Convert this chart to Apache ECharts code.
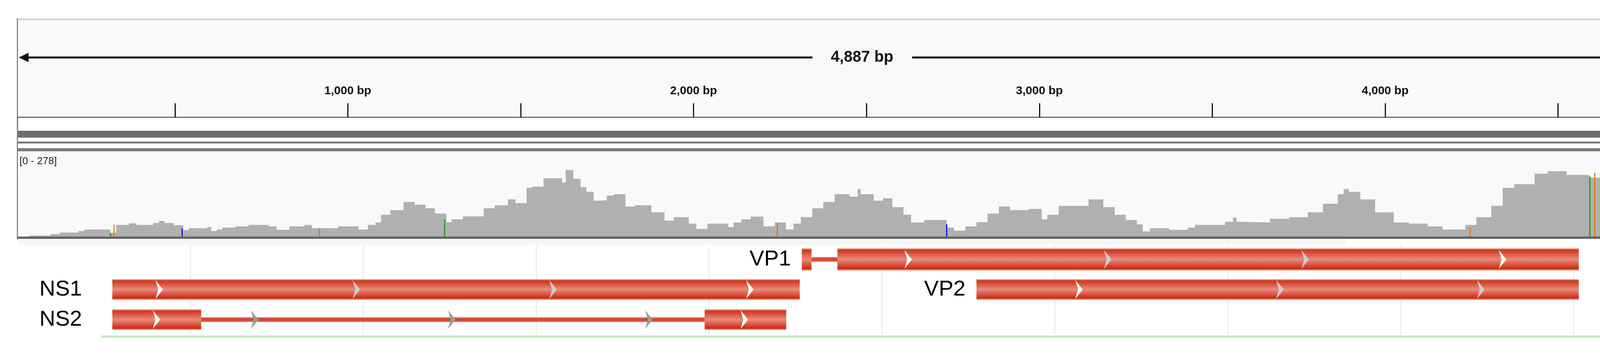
<!DOCTYPE html>
<html>
<head>
<meta charset="utf-8">
<script src="https://cdn.jsdelivr.net/npm/echarts@6/dist/echarts.min.js"></script>
<style>
    html, body { margin: 0; padding: 0; background: #fff; }
    #chart { width: 4408px; height: 908px; }
</style>
</head>
<body>
<div id="chart"></div>
<script>
// 视图范围 (bp)
var viewStart = 45;
var viewEnd = 4932;
var spanLabel = '4,887 bp';

// 标尺刻度
var rulerTicks = [500, 1000, 1500, 2000, 2500, 3000, 3500, 4000, 4500];
var rulerLabels = [1000, 2000, 3000, 4000];

// 覆盖度 (起点 bp, 深度)
var covRange = [0, 278];
var covPos = [46, 78, 140, 167, 221, 238, 313, 330, 367, 389, 437, 454, 470, 497, 524, 540, 594, 605, 621, 637,
    675, 713, 772, 794, 831, 875, 896, 972, 1031, 1058, 1080, 1096, 1123, 1161, 1193, 1225, 1252, 1285, 1300, 1333,
    1393, 1425, 1463, 1485, 1517, 1533, 1566, 1620, 1630, 1652, 1673, 1690, 1711, 1727, 1749, 1770, 1803, 1830, 1878, 1916,
    1943, 1986, 2008, 2040, 2100, 2116, 2138, 2165, 2202, 2235, 2267, 2289, 2310, 2343, 2375, 2408, 2451, 2475, 2483, 2521,
    2548, 2575, 2607, 2629, 2667, 2732, 2753, 2786, 2818, 2850, 2883, 2915, 2969, 3007, 3023, 3056, 3142, 3185, 3218, 3250,
    3282, 3299, 3320, 3375, 3429, 3450, 3537, 3560, 3570, 3580, 3667, 3722, 3776, 3820, 3863, 3880, 3895, 3928, 3971, 4025,
    4069, 4123, 4166, 4232, 4264, 4307, 4340, 4373, 4432, 4470, 4525, 4590, 4633, 4666, 4709, 4730, 4752, 4807, 4828, 4839,
    4883, 4894, 4915, 4918];
var covDepth = [0, 3, 8, 13, 18, 23, 12, 38, 43, 38, 44, 51, 44, 37, 21, 27, 31, 18, 23, 29,
    33, 38, 33, 22, 33, 38, 27, 33, 23, 38, 46, 71, 86, 113, 104, 92, 75, 47, 56, 66,
    92, 102, 121, 109, 159, 163, 190, 176, 217, 188, 161, 146, 117, 119, 134, 138, 98, 102, 79, 52,
    63, 42, 25, 42, 31, 46, 56, 65, 33, 46, 23, 42, 63, 92, 113, 138, 130, 155, 138, 117,
    125, 96, 71, 46, 54, 29, 19, 33, 47, 75, 98, 86, 90, 56, 71, 100, 121, 96, 71, 54,
    40, 17, 27, 22, 29, 38, 48, 62, 48, 46, 58, 63, 79, 107, 138, 155, 146, 121, 79, 46,
    42, 33, 23, 38, 63, 100, 159, 171, 205, 213, 201, 192, 188, 262, 278, 222, 196, 138, 96, 236,
    159, 44, 44, 0];

// 错配位点
var misPos = [314, 324, 521, 918, 1280, 2242, 2732, 4246, 4592, 4606, 4704, 4718, 4734, 4825, 4883, 4894];
var misDepth = [12, 38, 27, 27, 56, 44, 40, 30, 196, 208, 265, 278, 260, 125, 150, 40];
var misColor = ['#1a9a1a', '#e07a10', '#1010e0', '#e07a10', '#1a9a1a', '#e07a10', '#1010e0', '#e07a10',
    '#1a9a1a', '#e07a10', '#1010e0', '#e07a10', '#e01010', '#1a9a1a', '#1010e0', '#1010e0'];

// 基因注释
var geneNames = ['VP1', 'NS1', 'VP2', 'NS2'];
var geneRow = [0, 1, 1, 2];
var segGene = [0, 0, 0, 1, 2, 3, 3, 3];
var segStart = [2313, 2341, 2416, 319, 2818, 319, 576, 2032];
var segEnd = [2341, 2416, 4560, 2307, 4560, 576, 2032, 2268];
var segExon = [1, 0, 1, 1, 1, 1, 0, 1];
var chevPos = [2620, 3197, 3768, 4339, 454, 1024, 1593, 2162, 3114, 3695, 4276, 446, 730, 1300, 1870, 2146];
var chevRow = [0, 0, 0, 0, 1, 1, 1, 1, 1, 1, 1, 2, 2, 2, 2, 2];
var chevShade = [0, 1, 1, 0, 0, 1, 1, 0, 0, 1, 1, 0, 2, 2, 2, 0];
var gridBp = [545, 1045, 1545, 2045, 2545, 3045, 3545, 4045, 4545];

var L = 45, R = 4371;
var font = '"Liberation Sans", Arial, sans-serif';

var exonFill = new echarts.graphic.LinearGradient(0, 0, 0, 1, [
    {offset: 0, color: '#f4b8aa'}, {offset: 0.08, color: '#d0341a'},
    {offset: 0.5, color: '#e98a7c'}, {offset: 0.92, color: '#cc2a0e'}, {offset: 1, color: '#f4b8aa'}
]);
var shadeColor = ['#ffffff', '#cfcfcf', '#9a9a9a'];

function xAxisOf(idx, extra) {
    var a = {gridIndex: idx, type: 'value', min: viewStart, max: viewEnd, show: false};
    return Object.assign(a, extra || {});
}

var chart = echarts.init(document.getElementById('chart'));
chart.setOption({
    animation: false,
    backgroundColor: '#fff',
    textStyle: {fontFamily: font},
    graphic: [
        {type: 'rect', z: -10, shape: {x: L, y: 50, width: R - L, height: 250}, style: {fill: '#f9f9f9'}},
        {type: 'rect', z: -9, shape: {x: L, y: 47, width: R - L, height: 5}, style: {fill: '#d6d6dc'}},
        {type: 'rect', z: -9, shape: {x: L, y: 300, width: R - L, height: 36}, style: {fill: '#fff', stroke: '#666', lineWidth: 3}},
        {type: 'rect', z: -9, shape: {x: L, y: 337, width: R - L, height: 15}, style: {fill: '#6e6e6e'}},
        {type: 'rect', z: -9, shape: {x: L, y: 362, width: R - L, height: 5}, style: {fill: '#7a7a7a'}},
        {type: 'rect', z: -9, shape: {x: L, y: 379, width: R - L, height: 8}, style: {fill: '#7a7a7a'}},
        {type: 'rect', z: -10, shape: {x: L, y: 387, width: R - L, height: 218}, style: {fill: '#f9f9f9'}},
        {type: 'rect', z: 5, shape: {x: L, y: 605, width: R - L, height: 6}, style: {fill: '#666'}},
        {type: 'rect', z: -9, shape: {x: L, y: 612, width: 3400, height: 14}, style: {fill: '#f6f6f6'}},
        {type: 'rect', z: -9, shape: {x: L - 2, y: 47, width: 3, height: 565}, style: {fill: '#888'}},
        {type: 'rect', z: -9, shape: {x: R, y: 50, width: 2, height: 285}, style: {fill: '#999'}},
        {type: 'rect', z: -9, shape: {x: 259, y: 858, width: 4149, height: 6}, style: {fill: '#c8e8c2'}},
        // 跨度箭头
        {type: 'line', shape: {x1: L + 20, y1: 147, x2: 2080, y2: 147}, style: {stroke: '#111', lineWidth: 5}},
        {type: 'line', shape: {x1: 2335, y1: 147, x2: R - 20, y2: 147}, style: {stroke: '#111', lineWidth: 5}},
        {type: 'polygon', shape: {points: [[L + 3, 147], [L + 28, 135], [L + 28, 159]]}, style: {fill: '#111'}},
        {type: 'polygon', shape: {points: [[R - 3, 147], [R - 28, 135], [R - 28, 159]]}, style: {fill: '#111'}},
        {type: 'text', x: 2207, y: 147, style: {text: spanLabel, font: 'bold 40px ' + font, fill: '#111', align: 'center', verticalAlign: 'middle'}},
        {type: 'text', x: 50, y: 413, style: {text: '[' + covRange[0] + ' - ' + covRange[1] + ']', font: '26px ' + font, fill: '#222', verticalAlign: 'middle'}}
    ],
    grid: [
        {left: L, width: R - L, top: 50, height: 250},
        {left: L, width: R - L, top: 387, height: 218},
        {left: L, width: R - L, top: 625, height: 231}
    ],
    xAxis: [
        xAxisOf(0, {
            show: true,
            axisLine: {show: false},
            splitLine: {show: false},
            axisTick: {show: true, inside: true, length: 36, customValues: rulerTicks, lineStyle: {color: '#111', width: 3}},
            axisLabel: {
                show: true, inside: true, margin: 52, customValues: rulerLabels,
                fontFamily: font, fontWeight: 'bold', fontSize: 30, color: '#111',
                formatter: function (v) { return v.toLocaleString('en-US') + ' bp'; }
            }
        }),
        xAxisOf(1),
        xAxisOf(2)
    ],
    yAxis: [
        {gridIndex: 0, type: 'value', min: 0, max: 1, show: false},
        {gridIndex: 1, type: 'value', min: covRange[0], max: covRange[1], show: false},
        {gridIndex: 2, type: 'value', min: 0, max: 3, inverse: true, show: false}
    ],
    series: [
        {
            type: 'line', xAxisIndex: 1, yAxisIndex: 1, step: 'end', symbol: 'none',
            data: covPos.map(function (p, i) { return [p, covDepth[i]]; }),
            lineStyle: {width: 0}, itemStyle: {color: '#b0b0b0'},
            areaStyle: {color: '#b0b0b0', opacity: 1}
        },
        {
            type: 'custom', xAxisIndex: 1, yAxisIndex: 1, z: 4,
            data: misPos.map(function (p, i) { return [p, misDepth[i], i]; }),
            renderItem: function (params, api) {
                var a = api.coord([api.value(0), 0]);
                var b = api.coord([api.value(0), api.value(1)]);
                return {type: 'line', shape: {x1: a[0], y1: a[1], x2: b[0], y2: b[1]},
                    style: {stroke: misColor[api.value(2)], lineWidth: 3}};
            }
        },
        {
            // 竖向网格线
            type: 'custom', xAxisIndex: 2, yAxisIndex: 2, z: 1,
            data: gridBp.map(function (p) { return [p]; }),
            renderItem: function (params, api) {
                var a = api.coord([api.value(0), 0]);
                var b = api.coord([api.value(0), 3]);
                return {type: 'line', shape: {x1: a[0], y1: a[1] + 3, x2: b[0], y2: b[1]},
                    style: {stroke: '#e6e6e6', lineWidth: 2}};
            }
        },
        {
            type: 'custom', xAxisIndex: 2, yAxisIndex: 2, z: 3,
            data: segStart.map(function (s, i) { return [s, segEnd[i], geneRow[segGene[i]], segExon[i]]; }),
            renderItem: function (params, api) {
                var row = api.value(2) + 0.5;
                var a = api.coord([api.value(0), row]);
                var b = api.coord([api.value(1), row]);
                var h = api.value(3) ? (row < 1 ? 57 : 53) : 12;
                return {type: 'rect', shape: {x: a[0], y: a[1] - h / 2, width: b[0] - a[0], height: h},
                    style: {fill: api.value(3) ? exonFill : new echarts.graphic.LinearGradient(0, 0, 0, 1, [
                        {offset: 0, color: '#e0705e'}, {offset: 0.5, color: '#d83a20'}, {offset: 1, color: '#e0705e'}])}};
            }
        },
        {
            type: 'custom', xAxisIndex: 2, yAxisIndex: 2, z: 4,
            data: chevPos.map(function (p, i) { return [p, chevRow[i], chevShade[i]]; }),
            renderItem: function (params, api) {
                var c = api.coord([api.value(0), api.value(1) + 0.5]);
                var x = c[0], y = c[1];
                return {type: 'polygon', shape: {points: [[x - 9, y - 24], [x + 10, y], [x - 9, y + 24], [x - 2, y]]},
                    style: {fill: shadeColor[api.value(2)]}};
            }
        },
        {
            // 基因名称
            type: 'custom', xAxisIndex: 2, yAxisIndex: 2, z: 5,
            data: geneNames.map(function (n, i) {
                var s = Infinity;
                segStart.forEach(function (v, k) { if (segGene[k] === i) { s = Math.min(s, v); } });
                return [s, geneRow[i], i];
            }),
            renderItem: function (params, api) {
                var c = api.coord([api.value(0), api.value(1) + 0.5]);
                var x = api.value(0) < 1000 ? 210 : c[0] - 28;
                return {type: 'text', x: x, y: c[1],
                    style: {text: geneNames[api.value(2)], font: '56px ' + font, fill: '#000', align: 'right', verticalAlign: 'middle'}};
            }
        }
    ]
});
</script>
</body>
</html>
